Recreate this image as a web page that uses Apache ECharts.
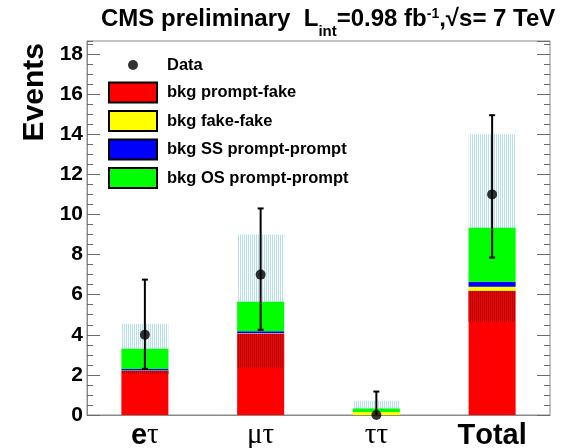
<!DOCTYPE html>
<html>
<head>
<meta charset="utf-8">
<script src="https://cdn.jsdelivr.net/npm/echarts@6/dist/echarts.min.js"></script>
<style>html,body{margin:0;padding:0;background:#fff}#c{width:561px;height:448px}</style>
</head>
<body>
<div id="c"></div>
<script>
// ---- data ----
const categories = ['eτ', 'μτ', 'ττ', 'Total'];
const promptFake = [2.2, 4.05, 0, 6.2];
const fakeFake = [0.02, 0.03, 0.15, 0.2];
const ssPromptPrompt = [0.08, 0.1, 0, 0.25];
const osPromptPrompt = [1.0, 1.47, 0.18, 2.69];
const bandLow = [2.05, 2.35, 0, 4.65];
const bandHigh = [4.55, 9.0, 0.71, 14.0];
const dataValues = [4, 7, 0, 11];
const dataLow = [2.3, 4.25, 0, 7.85];
const dataHigh = [6.75, 10.3, 1.17, 14.95];
const yTicks = [0, 2, 4, 6, 8, 10, 12, 14, 16, 18];

const FONT = 'Liberation Sans';
const SERIF = 'Liberation Serif';
const Y_MAX = 18.65;

function makePattern(col) {
  const c = document.createElement('canvas');
  c.width = 2; c.height = 2;
  const x = c.getContext('2d');
  x.fillStyle = col;
  x.fillRect(0, 0, 1, 2);
  return c;
}
const cyanPat = makePattern('rgba(120,200,225,0.55)');
const redPat = makePattern('rgb(165,8,8)');

const chart = echarts.init(document.getElementById('c'), null, {renderer: 'canvas'});

function catLabel(v) {
  let out = '';
  for (const ch of v) {
    out += /[A-Za-z]/.test(ch) ? '{b|' + ch + '}' : '{g|' + ch + '}';
  }
  return out;
}

const BAR_W = 47;
function yAx(pos, interval, len, labels) {
  return {
    type: 'value', position: pos, min: 0, max: Y_MAX, interval: interval,
    axisLine: {show: labels, lineStyle: {color: '#8a8a8a', width: 1}},
    axisTick: {show: true, inside: true, length: len, lineStyle: {color: '#6a6a6a', width: 1}},
    splitLine: {show: false},
    axisLabel: {
      show: labels, showMaxLabel: false, margin: 4, color: '#000',
      fontFamily: FONT, fontWeight: 'bold', fontSize: 21,
      formatter: v => (yTicks.indexOf(v) >= 0 ? String(v) : '')
    }
  };
}

const bandRedTop = promptFake.map((p, i) => Math.min(p, bandHigh[i]));
const bar = (name, stack, data, style, extra) => Object.assign({
  name: name, type: 'bar', stack: stack, barWidth: BAR_W, barGap: '-100%', data: data, itemStyle: style
}, extra || {});

const option = {
  animation: false,
  backgroundColor: '#fff',
  title: {
    left: 101, top: 7.5, padding: 0,
    text: '{a|CMS preliminary  L}{s|int}{a|=0.98 fb}{p|-1}{a|,√s= 7 TeV}',
    textStyle: {
      rich: {
        a: {fontFamily: FONT, fontWeight: 'bold', fontSize: 24, lineHeight: 24, verticalAlign: 'top', color: '#000'},
        s: {fontFamily: FONT, fontWeight: 'bold', fontSize: 15, lineHeight: 15, verticalAlign: 'top', padding: [17, 0, 0, 0], color: '#000'},
        p: {fontFamily: FONT, fontWeight: 'bold', fontSize: 14, lineHeight: 14, verticalAlign: 'top', color: '#000'}
      }
    }
  },
  graphic: [{
    type: 'text', x: 35, y: 43, rotation: Math.PI / 2,
    style: {text: 'Events', fontFamily: FONT, fontWeight: 'bold', fontSize: 30, fill: '#000', align: 'right', verticalAlign: 'middle'}
  }],
  legend: {
    orient: 'vertical', left: 108, top: 55, padding: 0, itemWidth: 48, itemHeight: 20, itemGap: 6.5,
    textStyle: {fontFamily: FONT, fontWeight: 'bold', fontSize: 16.5, color: '#000', padding: [0, 0, 0, 5]},
    selectedMode: false,
    data: [
      {name: 'Data', icon: 'path://M0,0L0,0M48,20L48,20M19,10A5,5,0,1,1,29,10A5,5,0,1,1,19,10Z', itemStyle: {color: '#000'}},
      {name: 'bkg prompt-fake', icon: 'rect', itemStyle: {borderColor: '#000', borderWidth: 2}},
      {name: 'bkg fake-fake', icon: 'rect', itemStyle: {borderColor: '#000', borderWidth: 2}},
      {name: 'bkg SS prompt-prompt', icon: 'rect', itemStyle: {borderColor: '#000', borderWidth: 2}},
      {name: 'bkg OS prompt-prompt', icon: 'rect', itemStyle: {borderColor: '#000', borderWidth: 2}}
    ]
  },
  grid: {left: 87, right: 11, top: 41, bottom: 33, outerBoundsMode: 'none', containLabel: false,
    show: true, borderColor: '#8a8a8a', borderWidth: 1, backgroundColor: 'transparent'},
  xAxis: {
    type: 'category', data: categories, boundaryGap: true,
    axisLine: {lineStyle: {color: '#8a8a8a', width: 1}},
    axisTick: {show: false},
    axisLabel: {
      interval: 0, hideOverlap: false, margin: 6, color: '#000', formatter: catLabel,
      rich: {
        b: {fontFamily: FONT, fontWeight: 'bold', fontSize: 29, color: '#000'},
        g: {fontFamily: SERIF, fontWeight: 'normal', fontSize: 29, color: '#000'}
      }
    }
  },
  yAxis: [
    yAx('left', 2, 13, true),
    yAx('left', 0.5, 6, false),
    yAx('right', 2, 13, false),
    yAx('right', 0.5, 6, false)
  ],
  series: [
    bar('bandBase', 'band', bandLow, {color: 'rgba(0,0,0,0)'}, {silent: true}),
    bar('bkg uncertainty', 'band', bandHigh.map((h, i) => +(h - bandLow[i]).toFixed(3)), {color: {image: cyanPat, repeat: 'repeat'}}, {silent: true}),
    bar('bkg prompt-fake', 'bkg', promptFake, {color: '#ff0000'}),
    bar('bandRedBase', 'bandR', bandLow, {color: 'rgba(0,0,0,0)'}, {silent: true}),
    bar('bkg uncertainty (on prompt-fake)', 'bandR', bandRedTop.map((t, i) => Math.max(0, +(t - bandLow[i]).toFixed(3))), {color: {image: redPat, repeat: 'repeat'}}, {silent: true}),
    bar('bkg fake-fake', 'bkg', fakeFake, {color: '#ffff00'}),
    bar('bkg SS prompt-prompt', 'bkg', ssPromptPrompt, {color: '#0000ff'}),
    bar('bkg OS prompt-prompt', 'bkg', osPromptPrompt, {color: '#00ff00'}),
    {
      name: 'Data err', type: 'custom', clip: false, z: 5,
      data: categories.map((c, i) => [i, dataValues[i], dataLow[i], dataHigh[i]]),
      encode: {x: 0, y: [1, 2, 3]},
      renderItem: function (params, api) {
        const x = api.value(0);
        const v = api.coord([x, api.value(1)]);
        const lo = api.coord([x, api.value(2)]);
        const hi = api.coord([x, api.value(3)]);
        const st = {stroke: '#000', lineWidth: 2};
        const ch = [
          {type: 'line', shape: {x1: v[0], y1: lo[1], x2: v[0], y2: hi[1]}, style: st},
          {type: 'line', shape: {x1: v[0] - 3, y1: hi[1], x2: v[0] + 3, y2: hi[1]}, style: st}
        ];
        if (api.value(2) < api.value(1)) {
          ch.push({type: 'line', shape: {x1: v[0] - 3, y1: lo[1], x2: v[0] + 3, y2: lo[1]}, style: st});
        }
        return {type: 'group', children: ch};
      }
    },
    {name: 'Data', type: 'scatter', data: dataValues, symbol: 'circle', symbolSize: 10, clip: false, z: 6, itemStyle: {color: '#000'}}
  ]
};
chart.setOption(option);
</script>
</body>
</html>
